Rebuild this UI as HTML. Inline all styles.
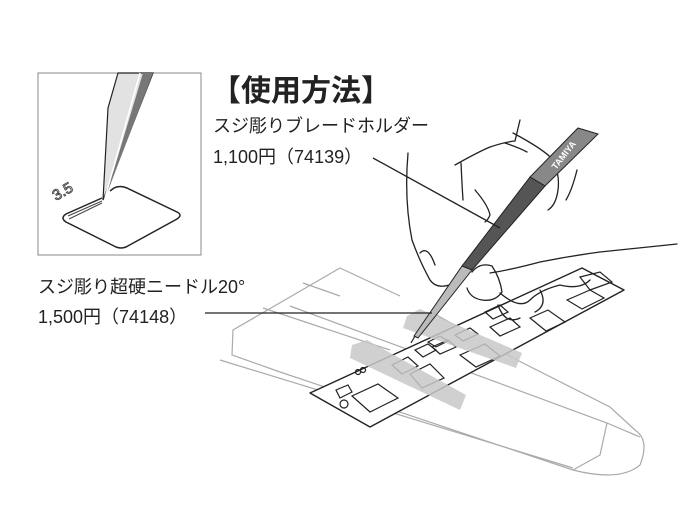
<!DOCTYPE html>
<html><head><meta charset="utf-8"><style>
html,body{margin:0;padding:0;background:#fff;}
body{width:700px;height:525px;overflow:hidden;position:relative;font-family:"Liberation Sans","Noto Sans CJK JP",sans-serif;}
.t{position:absolute;white-space:nowrap;color:#222;}
</style></head><body>
<svg width="700" height="525" style="position:absolute;left:0;top:0" xmlns="http://www.w3.org/2000/svg">
<!-- inset -->
<rect x="38" y="73" width="163" height="182" fill="#fff" stroke="#888" stroke-width="1"/>
<path d="M118 73 L108 108 L103 200 L153 73 Z" fill="#e2e2e2" stroke="#222" stroke-width="1.2"/>
<path d="M143 73 L106 196 L153 73 Z" fill="#777"/>
<path d="M140 73 L105 198" stroke="#fff" stroke-width="1.5"/>
<path d="M102 198 L66 214 Q60 218 66 222 L116 247 Q121 249 126 247 L177 219 Q183 215 177 212 L127 188 Q120 185 114 188 L110 191" fill="none" stroke="#222" stroke-width="1.5"/>
<path d="M102 201 L68 216 M102 203 L69 219" fill="none" stroke="#444" stroke-width="1"/>
<text x="56" y="201" font-size="15" fill="none" stroke="#444" stroke-width="0.9" transform="rotate(-30 56 201)" font-family="Liberation Sans">3.5</text>
<!-- wing -->
<g fill="none" stroke="#aaa" stroke-width="1.2">
<path d="M340 268 L233 330 L232 355 L280 372 L573 470 Q620 482 640 465 Q650 440 635 430 L610 407 L517 360 L433 313"/>
<path d="M220 360 L573 468"/>
<path d="M263 308 L390 350 M290 306 L607 423 L640 437 M303 283 L340 296 M340 268 L400 296"/>
<path d="M573 470 L600 455 L607 423"/>
</g>
<!-- template strip -->
<polygon points="310,393 582,268 624,290 370,427" fill="#fff" stroke="#222" stroke-width="1.4" stroke-linejoin="round"/>
<g fill="none" stroke="#222" stroke-width="1.2">
<polygon points="352,396 378,384 398,398 370,412"/>
<polygon points="336,390 348,385 352,392 340,398"/>
<circle cx="344" cy="404" r="4"/>
<polygon points="392,365 408,357 418,366 402,374"/>
<polygon points="410,374 430,364 444,378 422,388"/>
<polygon points="415,350 428,344 436,350 423,357"/>
<polygon points="432,347 448,340 456,347 440,354"/>
<polygon points="428,342 440,336 448,341 436,347"/>
<polygon points="455,335 470,328 478,334 463,341"/>
<polygon points="460,355 485,344 500,356 476,367"/>
<polygon points="490,327 510,318 520,327 500,336"/>
<polygon points="485,312 500,305 508,312 493,319"/>
<polygon points="530,318 548,310 565,322 546,331"/>
<polygon points="567,300 590,290 604,298 582,309"/>
<polygon points="580,277 600,272 612,282 590,290"/>
<circle cx="358" cy="372" r="2.5"/><circle cx="363" cy="370" r="2.5"/>
</g>
<!-- tapes -->
<polygon points="352,345 367,340 466,395 460,410 350,358" fill="#c8c8c8" opacity="0.85"/>
<polygon points="407,316 420,309 522,353 516,368 403,328" fill="#c8c8c8" opacity="0.85"/>
<!-- hand -->
<g fill="none" stroke="#222" stroke-width="1.3" stroke-linecap="round">
<path d="M408 153 Q404 200 412 240 Q420 262 430 280 Q437 290 452 284"/>
<path d="M420 253 Q428 245 435 265"/>
<path d="M461 163 Q462 185 463 200"/>
<path d="M455 165 Q478 152 490 147 Q505 142 515 141 L520 120"/>
<path d="M505 143 Q520 148 527 152"/>
<path d="M475 190 Q488 205 490 215 Q488 220 485 222"/>
<path d="M513 133 Q545 150 553 160 Q560 175 558 190 Q556 205 548 210"/>
<path d="M577 170 Q572 190 566 200"/>
<path d="M472 272 Q480 262 492 266 Q500 278 502 292 Q495 302 482 300 Q470 298 467 288"/>
<path d="M490 273 Q510 270 540 262 Q570 256 600 252 Q640 248 677 244"/>
<path d="M500 293 Q520 310 530 300 Q540 290 560 285 Q580 290 590 280 M540 290 Q548 305 535 312"/>
<path d="M498 305 Q505 325 520 318"/>
</g>
<!-- pen -->
<polygon points="578,128 598,134 545,186 530,177" fill="#888" stroke="#222" stroke-width="1"/>
<polygon points="530,177 545,186 472,270 462,266" fill="#555" stroke="#222" stroke-width="1"/>
<polygon points="462,266 472,270 418,338 414,336" fill="#bbb" stroke="#222" stroke-width="1"/>
<line x1="415" y1="336" x2="411" y2="343" stroke="#222" stroke-width="1.2"/>
<text x="556" y="170" font-size="9" fill="#fff" transform="rotate(-52 556 170)" font-weight="bold" font-family="Liberation Sans">TAMIYA</text>
<!-- leaders -->
<line x1="373" y1="158" x2="500" y2="228" stroke="#222" stroke-width="1.3"/>
<line x1="205" y1="313" x2="432" y2="313" stroke="#222" stroke-width="1.3"/>
</svg>
<div class="t" style="left:211px;top:66px;font-size:30px;font-weight:bold;">【使用方法】</div>
<div class="t" style="left:213px;top:112px;font-size:18px;">スジ彫りブレードホルダー</div>
<div class="t" style="left:213px;top:143px;font-size:18px;">1,100円（74139）</div>
<div class="t" style="left:38px;top:273px;font-size:18px;">スジ彫り超硬ニードル20°</div>
<div class="t" style="left:38px;top:303px;font-size:18px;">1,500円（74148）</div>
</body></html>
